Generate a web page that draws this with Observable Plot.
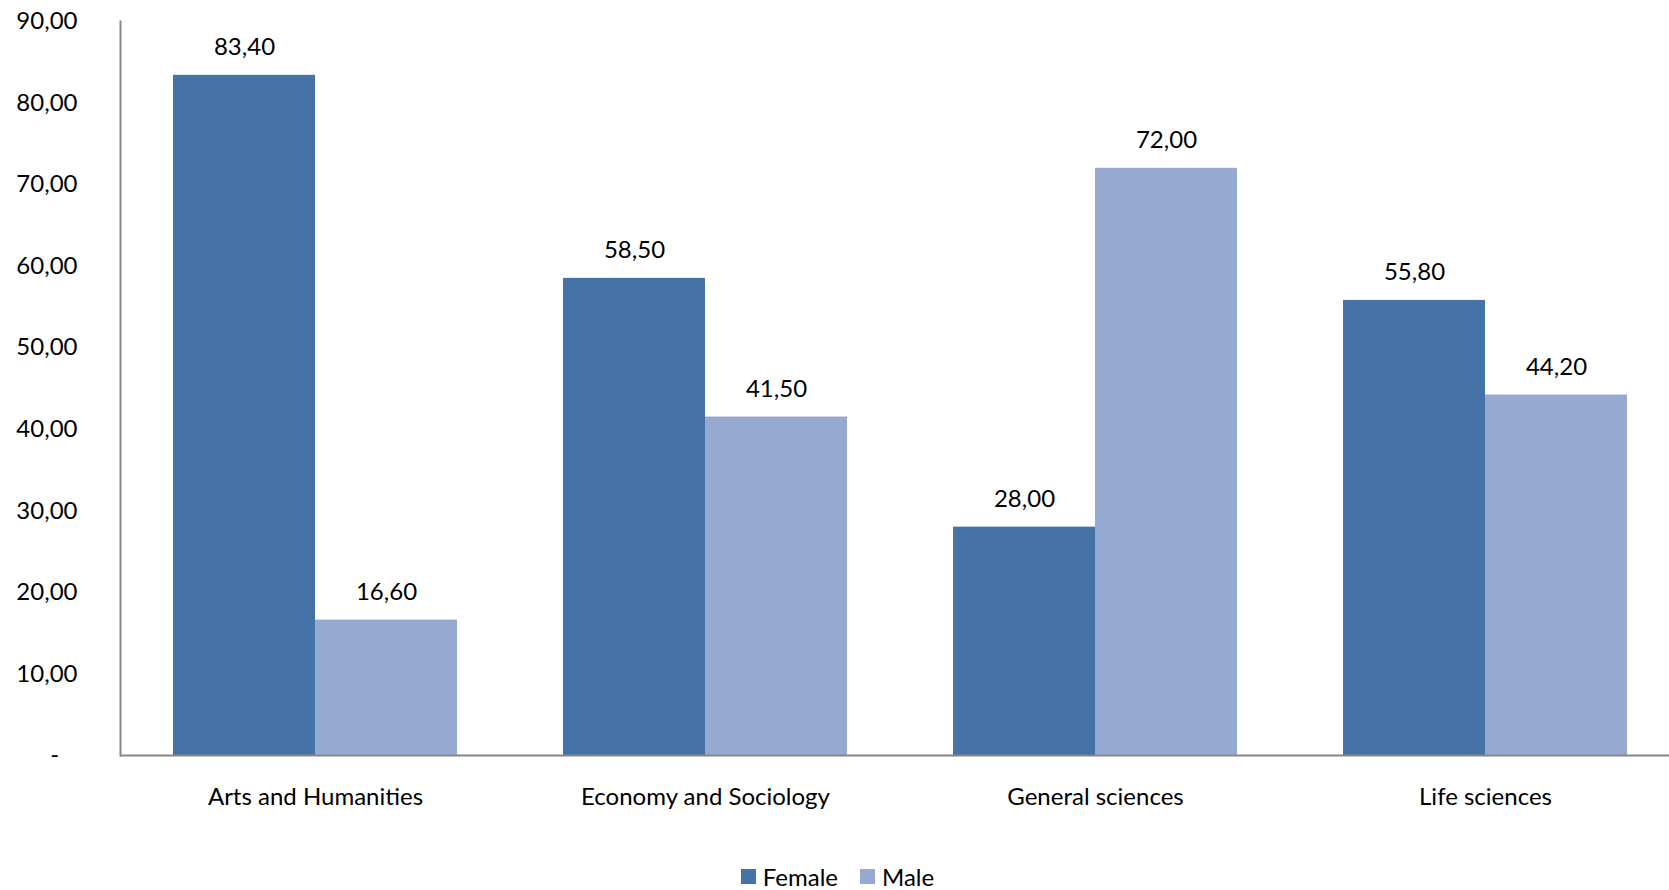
<!DOCTYPE html>
<html>
<head>
<meta charset="utf-8">
<script src="https://cdn.jsdelivr.net/npm/d3@7"></script>
<script src="https://cdn.jsdelivr.net/npm/@observablehq/plot@0.6"></script>
<style>
  html, body { margin: 0; padding: 0; background: #fff; }
  body { width: 1669px; height: 890px; overflow: hidden; font-family: Lato, "Open Sans", sans-serif; }
  #legend { display: flex; justify-content: center; align-items: center; gap: 0; margin-top: 22px; font-size: 24px; color: #000; padding-left: 6px; }
  .item { display: flex; align-items: center; margin: 0 11px; }
  .sw { width: 15px; height: 15px; margin-right: 7px; }
</style>
</head>
<body>
<div id="chart"></div>
<div id="legend"></div>
<script>
const categories = ["Arts and Humanities", "Economy and Sociology", "General sciences", "Life sciences"];
const series = ["Female", "Male"];
const femaleValues = [83.40, 58.50, 28.00, 55.80];
const maleValues = [16.60, 41.50, 72.00, 44.20];
const yTicks = [0, 10, 20, 30, 40, 50, 60, 70, 80, 90];
const colors = ["#4572A7", "#96A9D0"];

const data = [];
categories.forEach((c, i) => {
  data.push({category: c, sex: "Female", value: femaleValues[i]});
  data.push({category: c, sex: "Male", value: maleValues[i]});
});

const fmt = v => v === 0 ? "-\u00a0\u00a0\u00a0" : v.toFixed(2).replace(".", ",");

const chart = Plot.plot({
  width: 1669,
  height: 840,
  marginTop: 21,
  marginBottom: 85,
  marginLeft: 120,
  marginRight: 0,
  style: {fontFamily: "Lato, 'Open Sans', sans-serif", fontSize: "24px", color: "#000", background: "#fff"},
  fx: {domain: categories, range: [120, 1680], padding: 0, label: null},
  x: {domain: series, paddingInner: 0, paddingOuter: 0.373, axis: null},
  y: {domain: [0, 90], label: null},
  color: {domain: series, range: colors},
  marks: [
    Plot.barY(data, {fx: "category", x: "sex", y: "value", fill: "sex"}),
    Plot.text(data, {fx: "category", x: "sex", y: "value", text: d => fmt(d.value), dy: -28, fill: "#000", fontSize: 24}),
    Plot.ruleY([0], {stroke: "#868686", strokeWidth: 2}),
    Plot.frame({anchor: "left", facetAnchor: "left", stroke: "#868686", strokeWidth: 2}),
    Plot.axisY({ticks: yTicks, tickSize: 0, tickPadding: 43, tickFormat: fmt, label: null, fill: "#000", fontSize: 24}),
    Plot.axisFx({anchor: "bottom", tickSize: 0, tickPadding: 32, label: null, fill: "#000", fontSize: 24})
  ]
});
document.getElementById("chart").appendChild(chart);

const legend = document.getElementById("legend");
series.forEach((s, i) => {
  const item = document.createElement("div");
  item.className = "item";
  const sw = document.createElement("div");
  sw.className = "sw";
  sw.style.background = colors[i];
  const t = document.createElement("span");
  t.textContent = s;
  item.appendChild(sw);
  item.appendChild(t);
  legend.appendChild(item);
});
</script>
</body>
</html>
